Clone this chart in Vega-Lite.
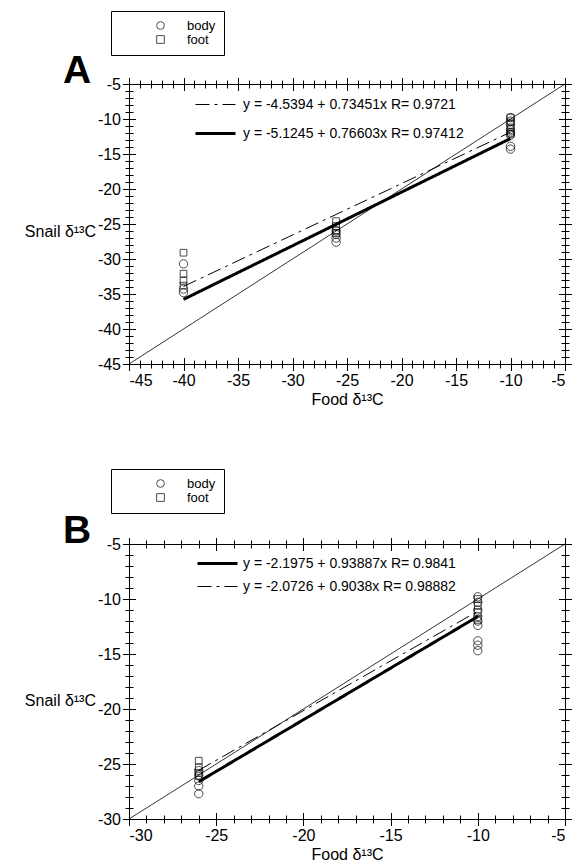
{
  "$schema": "https://vega.github.io/schema/vega-lite/v6.json",
  "padding": {"left": 23, "top": 10, "right": 0, "bottom": 0},
  "spacing": 60,
  "config": {
    "font": "Liberation Sans",
    "view": {"stroke": "black", "strokeWidth": 1},
    "axis": {"domain": false, "grid": false, "tickColor": "black", "labelColor": "black", "titleColor": "black", "labelFontSize": 16, "titleFontSize": 16, "titleFontWeight": "normal", "labelFont": "Liberation Sans", "titleFont": "Liberation Sans", "labelExpr": "'' + datum.value"},
    "legend": {"labelFont": "Liberation Sans", "labelColor": "black", "labelLimit": 0},
    "title": {"font": "Liberation Sans", "color": "black"}
  },
  "resolve": {
    "scale": {"shape": "independent", "strokeDash": "independent", "strokeWidth": "independent"},
    "legend": {"shape": "independent", "strokeDash": "independent", "strokeWidth": "independent"}
  },
  "datasets": {
    "ptsA": [
      {"x": -40, "y": -30.7, "series": "body"}, {"x": -40, "y": -34.3, "series": "body"}, {"x": -40, "y": -34.8, "series": "body"},
      {"x": -26, "y": -26.0, "series": "body"}, {"x": -26, "y": -26.5, "series": "body"}, {"x": -26, "y": -27.0, "series": "body"}, {"x": -26, "y": -27.6, "series": "body"},
      {"x": -10, "y": -9.8, "series": "body"}, {"x": -10, "y": -10.3, "series": "body"}, {"x": -10, "y": -10.8, "series": "body"}, {"x": -10, "y": -11.5, "series": "body"}, {"x": -10, "y": -12.0, "series": "body"}, {"x": -10, "y": -12.3, "series": "body"}, {"x": -10, "y": -13.9, "series": "body"}, {"x": -10, "y": -14.3, "series": "body"},
      {"x": -40, "y": -29.1, "series": "foot"}, {"x": -40, "y": -32.1, "series": "foot"}, {"x": -40, "y": -33.1, "series": "foot"}, {"x": -40, "y": -33.8, "series": "foot"},
      {"x": -26, "y": -24.6, "series": "foot"}, {"x": -26, "y": -25.3, "series": "foot"}, {"x": -26, "y": -25.9, "series": "foot"}, {"x": -26, "y": -26.3, "series": "foot"},
      {"x": -10, "y": -9.8, "series": "foot"}, {"x": -10, "y": -10.5, "series": "foot"}, {"x": -10, "y": -11.2, "series": "foot"}, {"x": -10, "y": -11.8, "series": "foot"}, {"x": -10, "y": -12.1, "series": "foot"}
    ],
    "ptsB": [
      {"x": -26, "y": -25.6, "series": "body"}, {"x": -26, "y": -26.0, "series": "body"}, {"x": -26, "y": -26.5, "series": "body"}, {"x": -26, "y": -27.0, "series": "body"}, {"x": -26, "y": -27.7, "series": "body"},
      {"x": -10, "y": -9.8, "series": "body"}, {"x": -10, "y": -10.3, "series": "body"}, {"x": -10, "y": -11.0, "series": "body"}, {"x": -10, "y": -11.6, "series": "body"}, {"x": -10, "y": -12.0, "series": "body"}, {"x": -10, "y": -12.4, "series": "body"}, {"x": -10, "y": -13.8, "series": "body"}, {"x": -10, "y": -14.2, "series": "body"}, {"x": -10, "y": -14.7, "series": "body"},
      {"x": -26, "y": -24.7, "series": "foot"}, {"x": -26, "y": -25.3, "series": "foot"}, {"x": -26, "y": -25.8, "series": "foot"}, {"x": -26, "y": -26.1, "series": "foot"},
      {"x": -10, "y": -10.0, "series": "foot"}, {"x": -10, "y": -10.6, "series": "foot"}, {"x": -10, "y": -11.2, "series": "foot"}, {"x": -10, "y": -11.9, "series": "foot"}
    ]
  },
  "vconcat": [
    {
      "width": 436,
      "height": 280,
      "title": {"text": "A", "fontSize": 39, "fontWeight": "bold", "anchor": "start", "frame": "group", "dx": -66, "offset": -80},
      "layer": [
        {
          "data": {"values": [{"x": -45, "y": -45}, {"x": -5, "y": -5}]},
          "mark": {"type": "line", "color": "black", "strokeWidth": 0.8},
          "encoding": {
            "x": {"field": "x", "type": "quantitative", "scale": {"domain": [-45, -5], "nice": false, "zero": false},
              "axis": {"orient": "bottom", "values": [-45, -40, -35, -30, -25, -20, -15, -10, -5], "tickSize": 13, "offset": -6.5, "labelPadding": 2, "title": "Food δ¹³C", "titlePadding": 3}},
            "y": {"field": "y", "type": "quantitative", "scale": {"domain": [-45, -5], "nice": false, "zero": false},
              "axis": {"orient": "left", "values": [-45, -40, -35, -30, -25, -20, -15, -10, -5], "tickSize": 13, "offset": -6.5, "labelPadding": 2, "title": "Snail δ¹³C", "titleAngle": 0, "titleAlign": "right", "titleBaseline": "middle", "titleX": -40, "titleY": 147}}
          }
        },
        {
          "data": {"values": [
            {"x": -40, "y": -33.92, "eq": "y = -4.5394 + 0.73451x R= 0.9721"},
            {"x": -10, "y": -11.88, "eq": "y = -4.5394 + 0.73451x R= 0.9721"},
            {"x": -40, "y": -35.77, "eq": "y = -5.1245 + 0.76603x R= 0.97412"},
            {"x": -10, "y": -12.79, "eq": "y = -5.1245 + 0.76603x R= 0.97412"}
          ]},
          "mark": {"type": "line", "color": "black"},
          "encoding": {
            "x": {"field": "x", "type": "quantitative", "scale": {"domain": [-45, -5], "nice": false, "zero": false},
              "axis": {"orient": "bottom", "values": [-45,-44,-43,-42,-41,-40,-39,-38,-37,-36,-35,-34,-33,-32,-31,-30,-29,-28,-27,-26,-25,-24,-23,-22,-21,-20,-19,-18,-17,-16,-15,-14,-13,-12,-11,-10,-9,-8,-7,-6,-5], "tickSize": 8, "offset": -4, "labels": false, "title": null}},
            "y": {"field": "y", "type": "quantitative", "scale": {"domain": [-45, -5], "nice": false, "zero": false},
              "axis": {"orient": "left", "values": [-45,-44,-43,-42,-41,-40,-39,-38,-37,-36,-35,-34,-33,-32,-31,-30,-29,-28,-27,-26,-25,-24,-23,-22,-21,-20,-19,-18,-17,-16,-15,-14,-13,-12,-11,-10,-9,-8,-7,-6,-5], "tickSize": 8, "offset": -4, "labels": false, "title": null}},
            "strokeDash": {"field": "eq", "type": "nominal",
              "scale": {"domain": ["y = -4.5394 + 0.73451x R= 0.9721", "y = -5.1245 + 0.76603x R= 0.97412"], "range": [[14, 5, 3, 5], [1, 0]]},
              "legend": {"orient": "none", "legendX": 65, "legendY": 13, "title": null, "symbolType": "M-1,0H4.714", "symbolSize": 196, "labelFontSize": 14, "rowPadding": 13, "padding": 0, "labelOffset": 32, "symbolStrokeColor": "black"}},
            "strokeWidth": {"field": "eq", "type": "nominal",
              "scale": {"domain": ["y = -4.5394 + 0.73451x R= 0.9721", "y = -5.1245 + 0.76603x R= 0.97412"], "range": [1, 3]},
              "legend": {"orient": "none", "legendX": 65, "legendY": 13, "title": null, "symbolType": "M-1,0H4.714", "symbolSize": 196, "labelFontSize": 14, "rowPadding": 13, "padding": 0, "labelOffset": 32, "symbolStrokeColor": "black"}}
          }
        },
        {
          "data": {"name": "ptsA"},
          "transform": [{"filter": "datum.series === 'body'"}],
          "mark": {"type": "point", "filled": false, "color": "black", "strokeWidth": 1, "size": 70},
          "encoding": {
            "x": {"field": "x", "type": "quantitative", "scale": {"domain": [-45, -5], "nice": false, "zero": false},
              "axis": {"orient": "top", "values": [-45, -40, -35, -30, -25, -20, -15, -10, -5], "tickSize": 13, "offset": -6.5, "labels": false, "title": null}},
            "y": {"field": "y", "type": "quantitative", "scale": {"domain": [-45, -5], "nice": false, "zero": false},
              "axis": {"orient": "right", "values": [-45, -40, -35, -30, -25, -20, -15, -10, -5], "tickSize": 13, "offset": -6.5, "labels": false, "title": null}},
            "shape": {"field": "series", "type": "nominal", "scale": {"domain": ["body", "foot"], "range": ["circle", "square"]},
              "legend": {"orient": "none", "legendX": -18, "legendY": -73, "title": null, "strokeColor": "black", "fillColor": "white", "padding": 8, "symbolOffset": 35, "symbolSize": 60, "symbolStrokeColor": "black", "symbolStrokeWidth": 1, "labelFontSize": 13, "labelOffset": 20, "rowPadding": 0}}
          }
        },
        {
          "data": {"name": "ptsA"},
          "transform": [{"filter": "datum.series === 'foot'"}],
          "mark": {"type": "point", "filled": false, "color": "black", "strokeWidth": 1, "size": 45},
          "encoding": {
            "x": {"field": "x", "type": "quantitative", "scale": {"domain": [-45, -5], "nice": false, "zero": false},
              "axis": {"orient": "top", "values": [-45,-44,-43,-42,-41,-40,-39,-38,-37,-36,-35,-34,-33,-32,-31,-30,-29,-28,-27,-26,-25,-24,-23,-22,-21,-20,-19,-18,-17,-16,-15,-14,-13,-12,-11,-10,-9,-8,-7,-6,-5], "tickSize": 8, "offset": -4, "labels": false, "title": null}},
            "y": {"field": "y", "type": "quantitative", "scale": {"domain": [-45, -5], "nice": false, "zero": false},
              "axis": {"orient": "right", "values": [-45,-44,-43,-42,-41,-40,-39,-38,-37,-36,-35,-34,-33,-32,-31,-30,-29,-28,-27,-26,-25,-24,-23,-22,-21,-20,-19,-18,-17,-16,-15,-14,-13,-12,-11,-10,-9,-8,-7,-6,-5], "tickSize": 8, "offset": -4, "labels": false, "title": null}},
            "shape": {"field": "series", "type": "nominal", "scale": {"domain": ["body", "foot"], "range": ["circle", "square"]},
              "legend": {"orient": "none", "legendX": -18, "legendY": -73, "title": null, "strokeColor": "black", "fillColor": "white", "padding": 8, "symbolOffset": 35, "symbolSize": 60, "symbolStrokeColor": "black", "symbolStrokeWidth": 1, "labelFontSize": 13, "labelOffset": 20, "rowPadding": 0}}
          }
        }
      ],
      "resolve": {"scale": {"x": "independent", "y": "independent"}, "axis": {"x": "independent", "y": "independent"}}
    },
    {
      "width": 436,
      "height": 275,
      "title": {"text": "B", "fontSize": 39, "fontWeight": "bold", "anchor": "start", "frame": "group", "dx": -66, "offset": -82},
      "layer": [
        {
          "data": {"values": [{"x": -30, "y": -30}, {"x": -5, "y": -5}]},
          "mark": {"type": "line", "color": "black", "strokeWidth": 0.8},
          "encoding": {
            "x": {"field": "x", "type": "quantitative", "scale": {"domain": [-30, -5], "nice": false, "zero": false},
              "axis": {"orient": "bottom", "values": [-30, -25, -20, -15, -10, -5], "tickSize": 13, "offset": -6.5, "labelPadding": 2, "title": "Food δ¹³C", "titlePadding": 3}},
            "y": {"field": "y", "type": "quantitative", "scale": {"domain": [-30, -5], "nice": false, "zero": false},
              "axis": {"orient": "left", "values": [-30, -25, -20, -15, -10, -5], "tickSize": 13, "offset": -6.5, "labelPadding": 2, "title": "Snail δ¹³C", "titleAngle": 0, "titleAlign": "right", "titleBaseline": "middle", "titleX": -40, "titleY": 156}}
          }
        },
        {
          "data": {"values": [
            {"x": -26, "y": -26.61, "eq": "y = -2.1975 + 0.93887x R= 0.9841"},
            {"x": -10, "y": -11.59, "eq": "y = -2.1975 + 0.93887x R= 0.9841"},
            {"x": -26, "y": -25.57, "eq": "y = -2.0726 + 0.9038x R= 0.98882"},
            {"x": -10, "y": -11.11, "eq": "y = -2.0726 + 0.9038x R= 0.98882"}
          ]},
          "mark": {"type": "line", "color": "black"},
          "encoding": {
            "x": {"field": "x", "type": "quantitative", "scale": {"domain": [-30, -5], "nice": false, "zero": false},
              "axis": {"orient": "bottom", "values": [-30,-29,-28,-27,-26,-25,-24,-23,-22,-21,-20,-19,-18,-17,-16,-15,-14,-13,-12,-11,-10,-9,-8,-7,-6,-5], "tickSize": 8, "offset": -4, "labels": false, "title": null}},
            "y": {"field": "y", "type": "quantitative", "scale": {"domain": [-30, -5], "nice": false, "zero": false},
              "axis": {"orient": "left", "values": [-30,-29,-28,-27,-26,-25,-24,-23,-22,-21,-20,-19,-18,-17,-16,-15,-14,-13,-12,-11,-10,-9,-8,-7,-6,-5], "tickSize": 8, "offset": -4, "labels": false, "title": null}},
            "strokeDash": {"field": "eq", "type": "nominal",
              "scale": {"domain": ["y = -2.1975 + 0.93887x R= 0.9841", "y = -2.0726 + 0.9038x R= 0.98882"], "range": [[1, 0], [14, 5, 3, 5]]},
              "legend": {"orient": "none", "legendX": 67, "legendY": 11, "title": null, "symbolType": "M-1,0H4.714", "symbolSize": 196, "labelFontSize": 14, "rowPadding": 8, "padding": 0, "labelOffset": 30, "symbolStrokeColor": "black"}},
            "strokeWidth": {"field": "eq", "type": "nominal",
              "scale": {"domain": ["y = -2.1975 + 0.93887x R= 0.9841", "y = -2.0726 + 0.9038x R= 0.98882"], "range": [3, 1]},
              "legend": {"orient": "none", "legendX": 67, "legendY": 11, "title": null, "symbolType": "M-1,0H4.714", "symbolSize": 196, "labelFontSize": 14, "rowPadding": 8, "padding": 0, "labelOffset": 30, "symbolStrokeColor": "black"}}
          }
        },
        {
          "data": {"name": "ptsB"},
          "transform": [{"filter": "datum.series === 'body'"}],
          "mark": {"type": "point", "filled": false, "color": "black", "strokeWidth": 1, "size": 70},
          "encoding": {
            "x": {"field": "x", "type": "quantitative", "scale": {"domain": [-30, -5], "nice": false, "zero": false},
              "axis": {"orient": "top", "values": [-30, -25, -20, -15, -10, -5], "tickSize": 13, "offset": -6.5, "labels": false, "title": null}},
            "y": {"field": "y", "type": "quantitative", "scale": {"domain": [-30, -5], "nice": false, "zero": false},
              "axis": {"orient": "right", "values": [-30, -25, -20, -15, -10, -5], "tickSize": 13, "offset": -6.5, "labels": false, "title": null}},
            "shape": {"field": "series", "type": "nominal", "scale": {"domain": ["body", "foot"], "range": ["circle", "square"]},
              "legend": {"orient": "none", "legendX": -18, "legendY": -75, "title": null, "strokeColor": "black", "fillColor": "white", "padding": 8, "symbolOffset": 35, "symbolSize": 60, "symbolStrokeColor": "black", "symbolStrokeWidth": 1, "labelFontSize": 13, "labelOffset": 20, "rowPadding": 0}}
          }
        },
        {
          "data": {"name": "ptsB"},
          "transform": [{"filter": "datum.series === 'foot'"}],
          "mark": {"type": "point", "filled": false, "color": "black", "strokeWidth": 1, "size": 45},
          "encoding": {
            "x": {"field": "x", "type": "quantitative", "scale": {"domain": [-30, -5], "nice": false, "zero": false},
              "axis": {"orient": "top", "values": [-30,-29,-28,-27,-26,-25,-24,-23,-22,-21,-20,-19,-18,-17,-16,-15,-14,-13,-12,-11,-10,-9,-8,-7,-6,-5], "tickSize": 8, "offset": -4, "labels": false, "title": null}},
            "y": {"field": "y", "type": "quantitative", "scale": {"domain": [-30, -5], "nice": false, "zero": false},
              "axis": {"orient": "right", "values": [-30,-29,-28,-27,-26,-25,-24,-23,-22,-21,-20,-19,-18,-17,-16,-15,-14,-13,-12,-11,-10,-9,-8,-7,-6,-5], "tickSize": 8, "offset": -4, "labels": false, "title": null}},
            "shape": {"field": "series", "type": "nominal", "scale": {"domain": ["body", "foot"], "range": ["circle", "square"]},
              "legend": {"orient": "none", "legendX": -18, "legendY": -75, "title": null, "strokeColor": "black", "fillColor": "white", "padding": 8, "symbolOffset": 35, "symbolSize": 60, "symbolStrokeColor": "black", "symbolStrokeWidth": 1, "labelFontSize": 13, "labelOffset": 20, "rowPadding": 0}}
          }
        }
      ],
      "resolve": {"scale": {"x": "independent", "y": "independent"}, "axis": {"x": "independent", "y": "independent"}}
    }
  ]
}
